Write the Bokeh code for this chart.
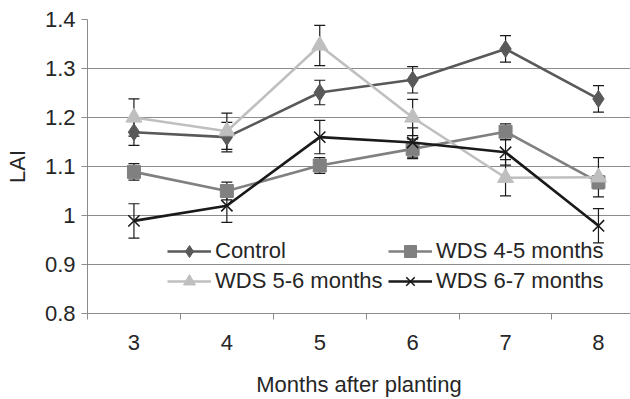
from bokeh.plotting import figure
from bokeh.models import (ColumnDataSource, Whisker, TeeHead, FixedTicker, Range1d,
                          CustomJSTickFormatter, Legend, LegendItem)
from bokeh.embed import file_html
from bokeh.resources import INLINE

months = [3, 4, 5, 6, 7, 8]
x_tick_labels = ["3", "4", "5", "6", "7", "8"]
y_ticks = [0.8, 0.9, 1.0, 1.1, 1.2, 1.3, 1.4]

control = [1.170, 1.160, 1.251, 1.277, 1.340, 1.238]
control_err = [0.027, 0.030, 0.025, 0.027, 0.027, 0.027]
wds45 = [1.089, 1.050, 1.102, 1.136, 1.171, 1.068]
wds45_err = [0.017, 0.018, 0.016, 0.020, 0.016, 0.013]
wds56 = [1.200, 1.172, 1.347, 1.200, 1.077, 1.078]
wds56_err = [0.038, 0.037, 0.041, 0.037, 0.037, 0.040]
wds67 = [0.989, 1.020, 1.160, 1.149, 1.129, 0.979]
wds67_err = [0.035, 0.034, 0.034, 0.030, 0.026, 0.035]

series = [
    ("Control", control, control_err, "#595959", "diamond", 17),
    ("WDS 4-5 months", wds45, wds45_err, "#808080", "square", 13),
    ("WDS 5-6 months", wds56, wds56_err, "#bfbfbf", "triangle", 16),
    ("WDS 6-7 months", wds67, wds67_err, "#1a1a1a", "x", 16),
]
legend_order = ["Control", "WDS 5-6 months", "WDS 4-5 months", "WDS 6-7 months"]

FONT = "Liberation Sans"

p = figure(width=630, height=399, output_backend="svg", toolbar_location=None,
           x_range=Range1d(2.5, 8.345), y_range=Range1d(0.8, 1.4),
           min_border_left=87, min_border_top=19, min_border_right=0, min_border_bottom=84)
p.outline_line_color = None
p.background_fill_color = "white"
p.xgrid.grid_line_color = None
p.ygrid.grid_line_color = "#8c8c8c"
p.ygrid.grid_line_width = 1
p.ygrid.ticker = FixedTicker(ticks=y_ticks)

xt = FixedTicker(ticks=months, minor_ticks=[m - 0.5 for m in months] + [months[-1] + 0.5])
p.xaxis.ticker = xt
p.xaxis.major_label_overrides = {m: s for m, s in zip(months, x_tick_labels)}
p.xaxis.major_tick_out = 0
p.xaxis.major_tick_in = 0
p.xaxis.minor_tick_out = 6
p.xaxis.minor_tick_in = 0
p.xaxis.minor_tick_line_color = "#8c8c8c"
p.xaxis.axis_line_color = "#8c8c8c"
p.xaxis.major_label_standoff = 15
p.xaxis.axis_label = "Months after planting"
p.xaxis.axis_label_standoff = 19

p.yaxis.ticker = FixedTicker(ticks=y_ticks)
p.yaxis.formatter = CustomJSTickFormatter(code="return String(Number(tick.toFixed(1)));")
p.yaxis.major_tick_out = 6
p.yaxis.major_tick_in = 0
p.yaxis.minor_tick_line_color = None
p.yaxis.major_tick_line_color = "#8c8c8c"
p.yaxis.axis_line_color = "#8c8c8c"
p.yaxis.major_label_standoff = 6
p.yaxis.axis_label = "LAI"
p.yaxis.axis_label_standoff = 12

for ax in (p.xaxis, p.yaxis):
    ax.major_label_text_font = FONT
    ax.major_label_text_font_size = "22px"
    ax.major_label_text_color = "#262626"
    ax.axis_label_text_font = FONT
    ax.axis_label_text_font_size = "22px"
    ax.axis_label_text_font_style = "normal"
    ax.axis_label_text_color = "#262626"

items = {}
for name, vals, errs, color, marker, size in series:
    src = ColumnDataSource(dict(
        x=months, y=vals,
        upper=[v + e for v, e in zip(vals, errs)],
        lower=[v - e for v, e in zip(vals, errs)]))
    ln = p.line("x", "y", source=src, line_color=color, line_width=2.6)
    if marker == "x":
        mk = p.scatter("x", "y", source=src, marker="x", size=size,
                       line_color=color, line_width=1.6)
    else:
        mk = p.scatter("x", "y", source=src, marker=marker, size=size,
                       fill_color=color, line_color=color)
    w = Whisker(source=src, base="x", upper="upper", lower="lower",
                line_color="#1a1a1a", line_width=1.2,
                upper_head=TeeHead(size=11, line_color="#1a1a1a", line_width=1.2),
                lower_head=TeeHead(size=11, line_color="#1a1a1a", line_width=1.2))
    p.add_layout(w)
    items[name] = LegendItem(label=name, renderers=[ln, mk])

legend = Legend(items=[items[n] for n in legend_order], ncols=2, location=(80, 17),
                background_fill_alpha=0, border_line_color=None,
                padding=0, margin=0, spacing=0,
                glyph_width=44, glyph_height=30, label_height=30,
                label_standoff=4, label_width=173,
                label_text_font=FONT, label_text_font_size="22px",
                label_text_color="#262626")
p.add_layout(legend, "center")

open("out.html", "w").write(file_html(p, INLINE))
